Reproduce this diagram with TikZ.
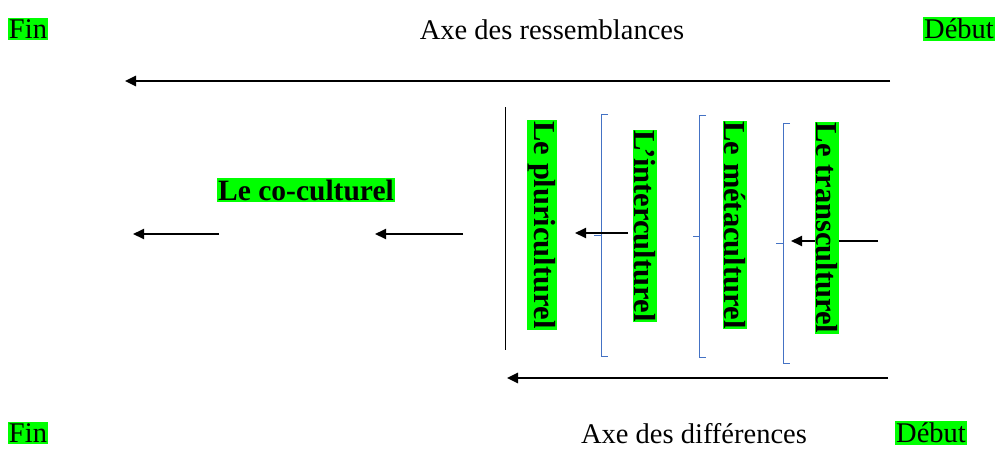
\documentclass[tikz,border=0pt]{standalone}
\usepackage{fontspec}
\setmainfont{Liberation Serif}
\usetikzlibrary{arrows.meta,positioning}
\definecolor{surlign}{RGB}{0,255,0}
\definecolor{accolade}{RGB}{68,114,196}

\begin{document}
\begin{tikzpicture}[x=1pt,y=-1pt,->,>={Triangle[length=11pt,width=10pt]},line width=2pt,
  surl/.style={fill=surlign,inner xsep=1pt,inner ysep=1.5pt,font=\fontsize{28.5}{31}\selectfont},
  titre/.style={inner sep=1pt,font=\fontsize{28.5}{31}\selectfont},
  vertical/.style={fill=surlign,inner sep=1pt,rotate=-90,font=\fontsize{30.5}{33}\selectfont\bfseries},
  crochet/.style={-,draw=accolade,line width=1pt}]
  \useasboundingbox (0,0) rectangle (995,450);
  % axe du haut
  \node[surl]  (fin1)   at (28,29)  {Fin};
  \node[titre] (axeres) at (552,30) {Axe des ressemblances};
  \node[surl]  (debut1) at (959,29) {Début};
  \coordinate (r1) at (890,81);
  \coordinate (r2) at (125,81);
  \draw[line width=2.5pt] (r1) -- (r2);
  % axe du bas
  \node[surl]  (fin2)   at (28,433)  {Fin};
  \node[titre] (axedif) at (694,434) {Axe des différences};
  \node[surl]  (debut2) at (931,433) {Début};
  \coordinate (d1) at (888,378);
  \coordinate (d2) at (507,378);
  \draw[line width=2.5pt] (d1) -- (d2);
  % fleche sous le transculturel
  \coordinate (t1) at (878,241);
  \coordinate (t2) at (791,241);
  \draw (t1) -- (t2);
  % les quatre termes
  \node[vertical] (pluri) at (542,225) {Le pluriculturel};
  \node[vertical] (inter) at (645,226) {L’interculturel};
  \node[vertical] (meta)  at (735,225) {Le métaculturel};
  \node[vertical] (trans) at (827,228) {Le transculturel};
  \node[surl,font=\fontsize{29.5}{32}\selectfont\bfseries] (cocult) at (306,190) {Le co-culturel};
  % separateurs
  \draw[-,line width=1pt] (505,107) -- (505,350);
  \draw[crochet] (608,114) -- (601,114) -- (601,356) -- (608,356) (601,235) -- (594,235);
  \draw[crochet] (706,115) -- (699,115) -- (699,357) -- (706,357) (699,236) -- (693,236);
  \draw[crochet] (790,123) -- (783,123) -- (783,363) -- (790,363) (783,243) -- (776,243);
  % fleches
  \coordinate (i1) at (628,233);
  \coordinate (i2) at (575,233);
  \draw (i1) -- (i2);
  \coordinate (c1) at (463,234);
  \coordinate (c2) at (375,234);
  \draw (c1) -- (c2);
  \coordinate (c3) at (219,234);
  \coordinate (c4) at (133,234);
  \draw (c3) -- (c4);
\end{tikzpicture}
\end{document}
